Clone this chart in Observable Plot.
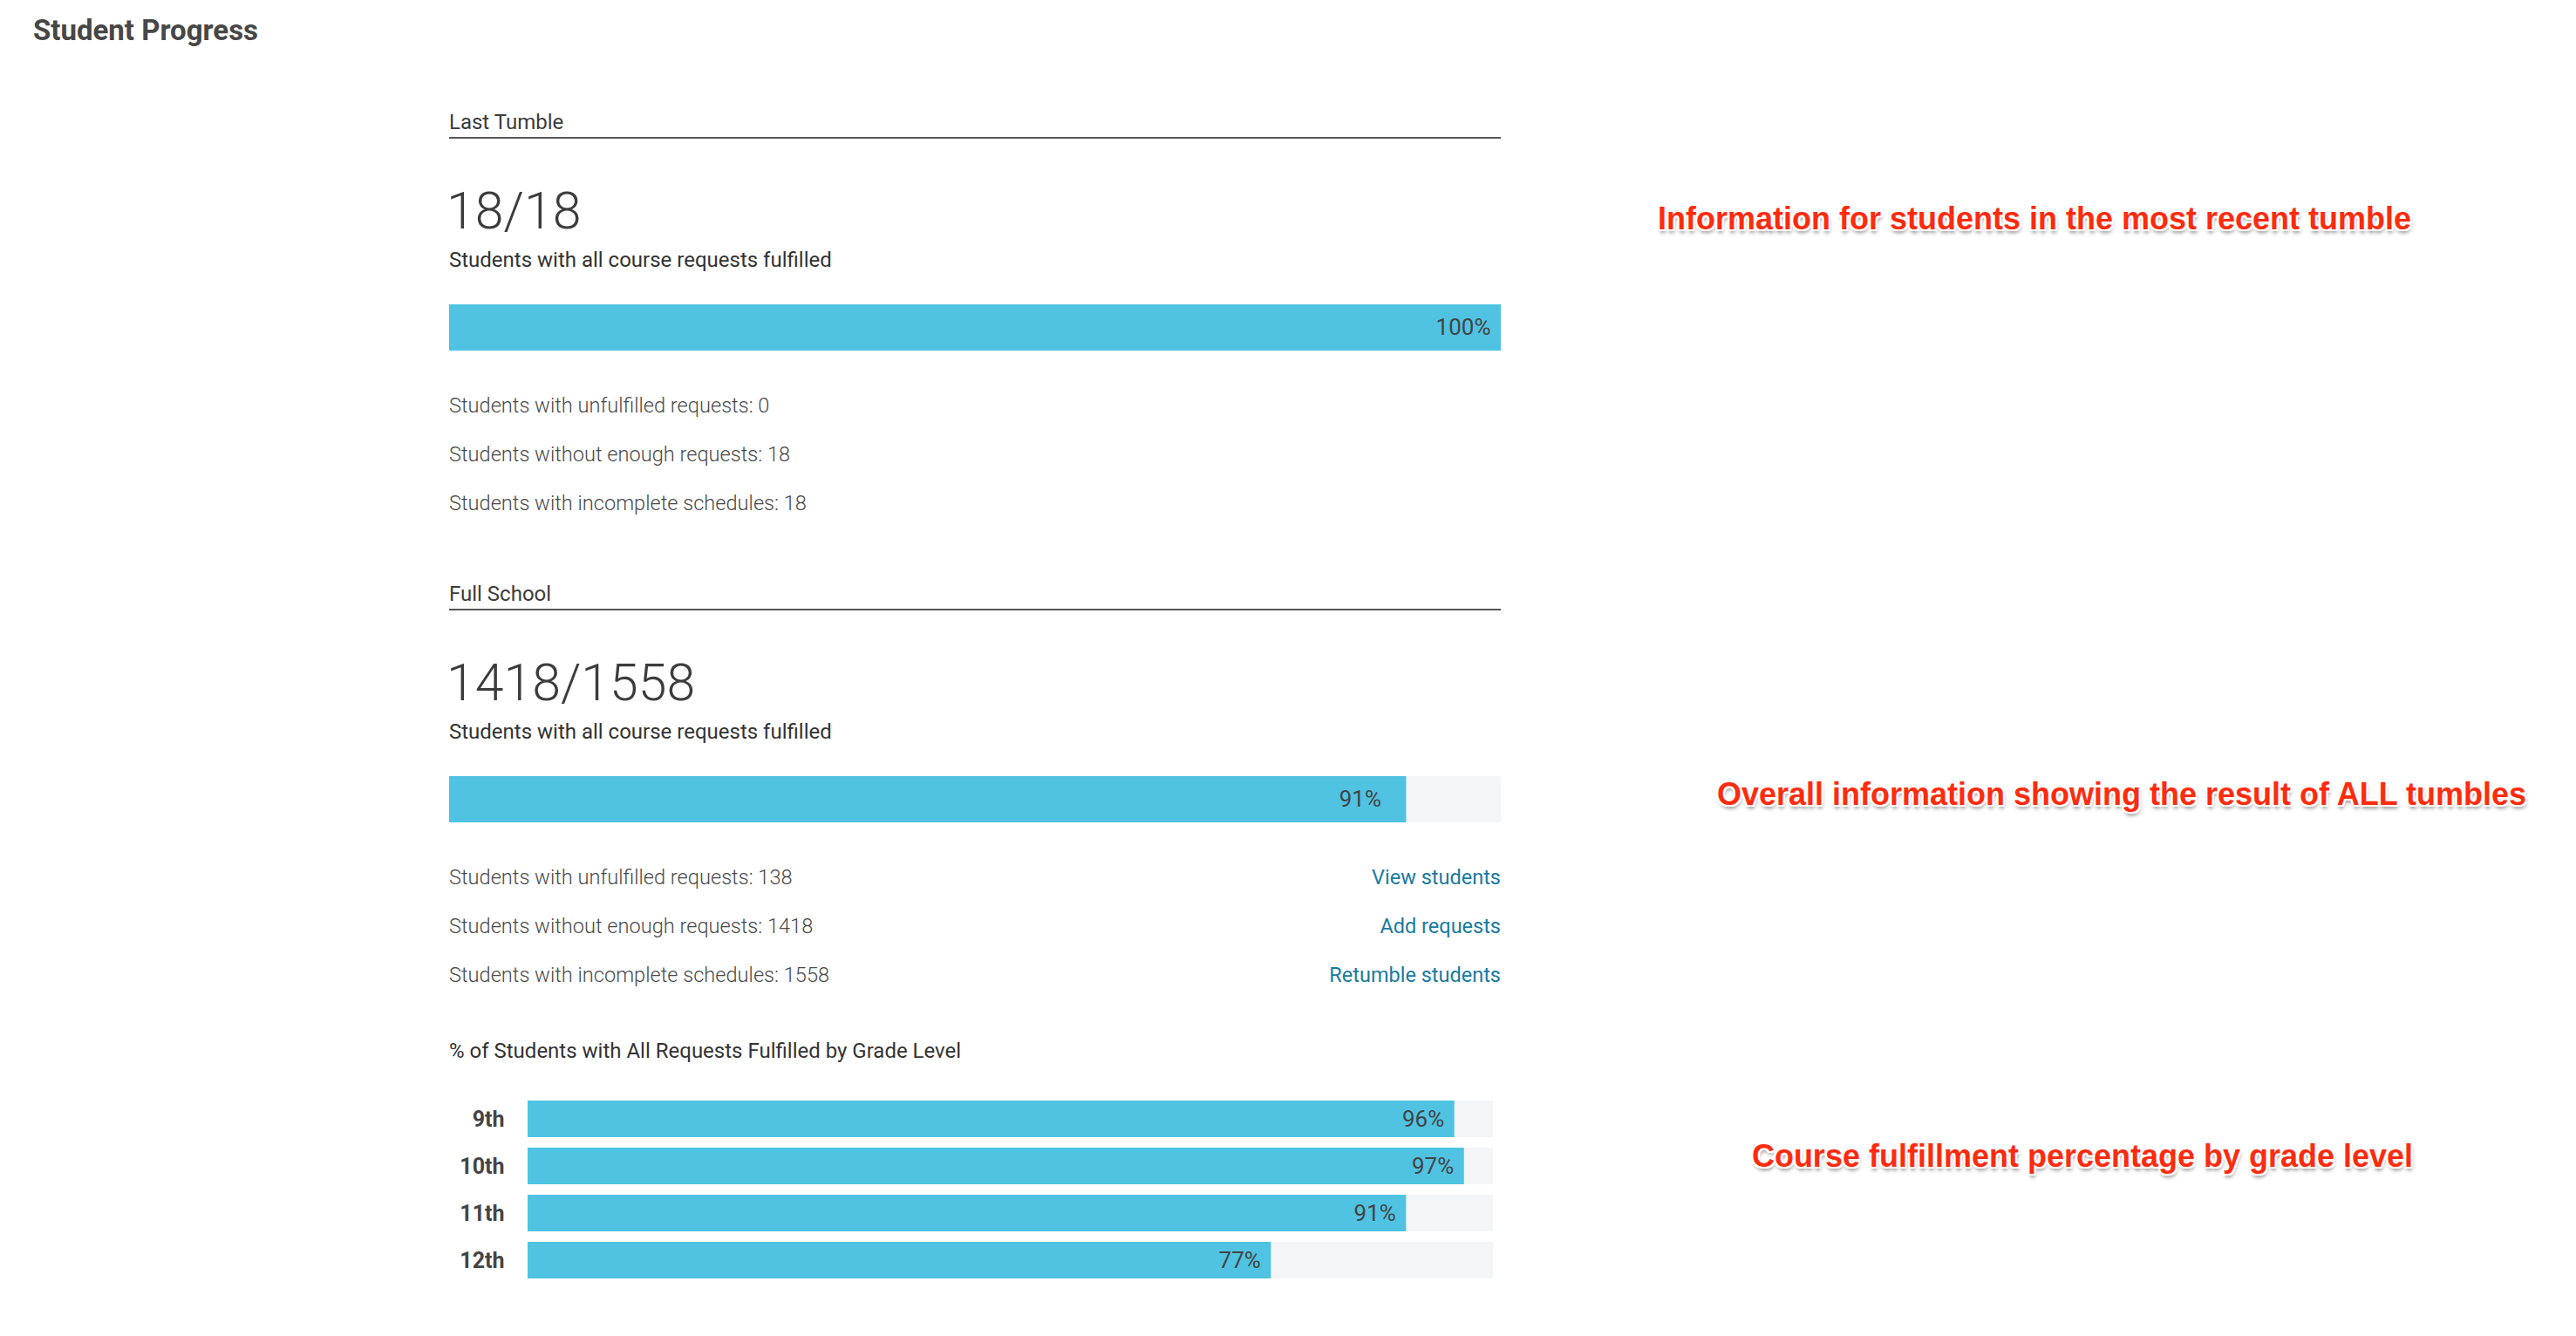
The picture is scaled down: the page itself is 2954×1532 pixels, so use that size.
<!DOCTYPE html>
<html>
<head>
<meta charset="utf-8">
<script src="https://cdn.jsdelivr.net/npm/d3@7"></script>
<script src="https://cdn.jsdelivr.net/npm/@observablehq/plot@0.6"></script>
<style>
  html, body { margin: 0; padding: 0; background: #fff; }
  body { font-family: Roboto, "Noto Sans", sans-serif; color: #444; }
  #page { position: relative; width: 2954px; height: 1532px; overflow: hidden; }
  .abs { position: absolute; white-space: nowrap; transform: translateY(-50%); line-height: 1; }
  .title { font-size: 33px; font-weight: 700; color: #474747; }
  .section { font-size: 24px; font-weight: 400; color: #3c3c3c; }
  .rule { position: absolute; height: 2px; background: #555; }
  .big { font-size: 59px; font-weight: 300; color: #3c3c3c; }
  .sub { font-size: 24px; font-weight: 400; color: #333; }
  .stat { font-size: 23.6px; font-weight: 300; color: #4a4a4a; }
  .link { font-size: 23.5px; font-weight: 400; color: #197a9f; transform: translate(-100%, -50%); }
  .ann { font-family: "Liberation Sans", Arial, sans-serif; font-weight: 700; font-size: 36px; color: #ff2b0e;
         transform: translate(-50%, -50%);
         text-shadow: -2px -2px 0 #fff, 2px -2px 0 #fff, -2px 2px 0 #fff, 2px 2px 0 #fff, 0 -2px 0 #fff, 0 2px 0 #fff, -2px 0 0 #fff, 2px 0 0 #fff, 1px 4px 4px rgba(0,0,0,0.45); }
  .plot { position: absolute; }
</style>
</head>
<body>
<div id="page"></div>
<script>
// ---- data ----
const pageTitle = "Student Progress";
const sections = ["Last Tumble", "Full School"];
const fulfilled = [18, 1418];
const totals = [18, 1558];
const fulfilledLabel = "Students with all course requests fulfilled";
const overallPct = [100, 91];
const statLabels = ["Students with unfulfilled requests", "Students without enough requests", "Students with incomplete schedules"];
const unfulfilled = [0, 138];
const withoutEnough = [18, 1418];
const incomplete = [18, 1558];
const links = ["View students", "Add requests", "Retumble students"];
const gradeTitle = "% of Students with All Requests Fulfilled by Grade Level";
const grades = ["9th", "10th", "11th", "12th"];
const gradePct = [96, 97, 91, 77];
const annotations = [
  "Information for students in the most recent tumble",
  "Overall information showing the result of ALL tumbles",
  "Course fulfillment percentage by grade level"
];

// ---- layout ----
const page = document.getElementById("page");
const BLUE = "#4fc3e1", TRACK = "#f4f5f7", LABEL = "#444";
const LEFT = 515, WIDTH = 1206;
const sectionOffset = [0, 541];
const labelInset = [12, 29];

function addText(cls, text, x, y) {
  const d = document.createElement("div");
  d.className = "abs " + cls;
  d.textContent = text;
  d.style.left = x + "px";
  d.style.top = y + "px";
  page.appendChild(d);
  return d;
}
function addRule(x, y, w) {
  const d = document.createElement("div");
  d.className = "rule";
  d.style.left = x + "px"; d.style.top = y + "px"; d.style.width = w + "px";
  page.appendChild(d);
}
function addPlot(node, x, y) {
  node.classList.add("plot");
  node.style.left = x + "px";
  node.style.top = y + "px";
  page.appendChild(node);
}

addText("title", pageTitle, 38, 34);

const statVals = [unfulfilled, withoutEnough, incomplete];
sections.forEach((name, i) => {
  const o = sectionOffset[i];
  addText("section", name, LEFT, 140 + o);
  addRule(LEFT, 157 + o, WIDTH);
  addText("big", `${fulfilled[i]}/${totals[i]}`, LEFT - 3, 241 + o);
  addText("sub", fulfilledLabel, LEFT, 298 + o);
  const bar = Plot.plot({
    width: WIDTH, height: 53, margin: 0,
    x: {domain: [0, 100], axis: null},
    style: {background: "transparent", overflow: "visible"},
    marks: [
      Plot.barX([100], {x: d => d, fill: TRACK}),
      Plot.barX([overallPct[i]], {x: d => d, fill: BLUE}),
      Plot.text([overallPct[i]], {x: d => d, text: d => d + "%", dx: -labelInset[i], textAnchor: "end",
        fontSize: 26, fill: LABEL, fontWeight: 400, fontFamily: "Roboto"})
    ]
  });
  addPlot(bar, LEFT, 349 + o);
  const ys = [466, 522, 578];
  statLabels.forEach((lab, j) => {
    addText("stat", `${lab}: ${statVals[j][i]}`, LEFT, ys[j] + o);
    if (i === 1) addText("link", links[j], LEFT + WIDTH, ys[j] + o);
  });
});

addText("sub", gradeTitle, LEFT, 1205);

const gradeData = grades.map((g, k) => ({grade: g, pct: gradePct[k]}));
const gradePlot = Plot.plot({
  width: 1197, height: 216,
  marginLeft: 90, marginRight: 0, marginTop: 0, marginBottom: 0,
  x: {domain: [0, 100], axis: null},
  y: {domain: grades, paddingInner: 0.23, paddingOuter: 0.115, label: null},
  style: {background: "transparent", color: "#444", fontFamily: "Roboto", overflow: "visible"},
  marks: [
    Plot.barX(gradeData, {y: "grade", x: () => 100, fill: TRACK}),
    Plot.barX(gradeData, {y: "grade", x: "pct", fill: BLUE}),
    Plot.text(gradeData, {y: "grade", x: "pct", text: d => d.pct + "%", dx: -12, textAnchor: "end",
      fontSize: 26, fill: LABEL, fontWeight: 400}),
    Plot.axisY({tickSize: 0, tickPadding: 27, fontSize: 25, fontWeight: 700, label: null})
  ]
});
addPlot(gradePlot, LEFT, 1256);

const annPos = [[2333, 251], [2433, 911], [2388, 1326]];
annotations.forEach((t, k) => addText("ann", t, annPos[k][0], annPos[k][1]));
</script>
</body>
</html>
